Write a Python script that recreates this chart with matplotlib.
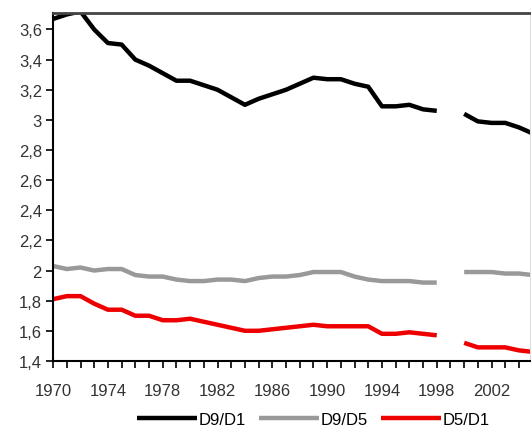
import matplotlib.pyplot as plt
import numpy as np
from matplotlib.ticker import FuncFormatter, MultipleLocator, FixedLocator

plt.rcParams['font.family'] = ['Liberation Sans', 'DejaVu Sans']

years = list(range(1970, 2006))
# 1999 is missing in all three series
d9_d1 = [3.67, 3.70, 3.72, 3.60, 3.51, 3.50, 3.40, 3.36, 3.31, 3.26,
         3.26, 3.23, 3.20, 3.15, 3.10, 3.14, 3.17, 3.20, 3.24, 3.28,
         3.27, 3.27, 3.24, 3.22, 3.09, 3.09, 3.10, 3.07, 3.06, None,
         3.04, 2.99, 2.98, 2.98, 2.95, 2.91]
d9_d5 = [2.03, 2.01, 2.02, 2.00, 2.01, 2.01, 1.97, 1.96, 1.96, 1.94,
         1.93, 1.93, 1.94, 1.94, 1.93, 1.95, 1.96, 1.96, 1.97, 1.99,
         1.99, 1.99, 1.96, 1.94, 1.93, 1.93, 1.93, 1.92, 1.92, None,
         1.99, 1.99, 1.99, 1.98, 1.98, 1.97]
d5_d1 = [1.81, 1.83, 1.83, 1.78, 1.74, 1.74, 1.70, 1.70, 1.67, 1.67,
         1.68, 1.66, 1.64, 1.62, 1.60, 1.60, 1.61, 1.62, 1.63, 1.64,
         1.63, 1.63, 1.63, 1.63, 1.58, 1.58, 1.59, 1.58, 1.57, None,
         1.52, 1.49, 1.49, 1.49, 1.47, 1.46]
year_labels = list(range(1970, 2003, 4))


def to_arr(vals):
    return np.array([np.nan if v is None else v for v in vals], dtype=float)


fig = plt.figure(figsize=(5.31, 4.35), dpi=100)
ax = fig.add_axes([0.1, 0.168, 0.898, 0.8])

ax.plot(years, to_arr(d9_d1), color='black', lw=3.2, label='D9/D1', solid_capstyle='butt')
ax.plot(years, to_arr(d9_d5), color='#999999', lw=3.2, label='D9/D5', solid_capstyle='butt')
ax.plot(years, to_arr(d5_d1), color='#ee0000', lw=3.2, label='D5/D1', solid_capstyle='butt')

ax.set_xlim(1970, 2004.8)
ax.set_ylim(1.4, 3.71)
ax.xaxis.set_major_locator(FixedLocator(year_labels))
ax.xaxis.set_minor_locator(MultipleLocator(1))
ax.yaxis.set_major_locator(MultipleLocator(0.2))
ax.yaxis.set_major_formatter(FuncFormatter(lambda v, p: ('%g' % round(v, 1)).replace('.', ',')))

ax.tick_params(axis='both', which='both', direction='out', length=5, width=1.2, colors='black',
               labelsize=12, labelcolor='#333333')
ax.tick_params(axis='x', pad=11)
ax.tick_params(axis='y', pad=3)

for s in ['left', 'bottom']:
    ax.spines[s].set_linewidth(1.5)
ax.spines['top'].set_color('#444444')
ax.spines['top'].set_linewidth(2)
ax.spines['right'].set_color('#dddddd')

fig.legend(loc='lower center', bbox_to_anchor=(0.59, -0.018), ncol=3, frameon=False,
           handlelength=3.6, handletextpad=0.1, columnspacing=0.8, fontsize=12)

fig.savefig('out.png', dpi=100)
